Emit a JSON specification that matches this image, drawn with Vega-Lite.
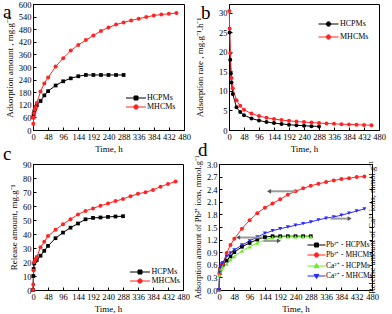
{
 "$schema": "https://vega.github.io/schema/vega-lite/v6.json",
 "autosize": {"type": "none"},
 "padding": {"left": 33, "top": 4, "right": 359, "bottom": 310},
 "background": "white",
 "config": {
  "font": "Liberation Serif",
  "view": {"stroke": "black", "strokeWidth": 1},
  "axis": {"grid": false, "domainColor": "black", "tickColor": "black", "labelColor": "black", "titleColor": "black", "labelFontSize": 8.5, "titleFontSize": 9, "titleFontWeight": "normal", "tickSize": -3, "labelPadding": 5, "labelFont": "Liberation Serif", "titleFont": "Liberation Serif", "labelOverlap": false, "labelBound": false, "labelFlush": false},
  "legend": {"labelFont": "Liberation Serif", "labelFontSize": 8, "labelColor": "black"},
  "title": {"font": "Liberation Serif", "fontSize": 19, "fontWeight": "normal", "anchor": "start", "frame": "group", "baseline": "alphabetic", "color": "black"}
 },
 "datasets": {
  "a": [
   {"t":1,"v":60,"s":"HCPMs"},{"t":2,"v":75,"s":"HCPMs"},{"t":4,"v":88,"s":"HCPMs"},{"t":6,"v":98,"s":"HCPMs"},{"t":8,"v":106,"s":"HCPMs"},{"t":12,"v":118,"s":"HCPMs"},{"t":24,"v":138,"s":"HCPMs"},{"t":36,"v":165,"s":"HCPMs"},{"t":48,"v":185,"s":"HCPMs"},{"t":72,"v":212,"s":"HCPMs"},{"t":96,"v":232,"s":"HCPMs"},{"t":120,"v":246,"s":"HCPMs"},{"t":144,"v":256,"s":"HCPMs"},{"t":168,"v":262,"s":"HCPMs"},{"t":192,"v":262,"s":"HCPMs"},{"t":216,"v":262,"s":"HCPMs"},{"t":240,"v":262,"s":"HCPMs"},{"t":264,"v":262,"s":"HCPMs"},{"t":288,"v":262,"s":"HCPMs"},
   {"t":1,"v":30,"s":"MHCMs"},{"t":2,"v":60,"s":"MHCMs"},{"t":4,"v":80,"s":"MHCMs"},{"t":6,"v":98,"s":"MHCMs"},{"t":8,"v":110,"s":"MHCMs"},{"t":12,"v":128,"s":"MHCMs"},{"t":24,"v":183,"s":"MHCMs"},{"t":36,"v":222,"s":"MHCMs"},{"t":48,"v":250,"s":"MHCMs"},{"t":72,"v":302,"s":"MHCMs"},{"t":96,"v":342,"s":"MHCMs"},{"t":120,"v":378,"s":"MHCMs"},{"t":144,"v":405,"s":"MHCMs"},{"t":168,"v":428,"s":"MHCMs"},{"t":192,"v":450,"s":"MHCMs"},{"t":216,"v":472,"s":"MHCMs"},{"t":240,"v":488,"s":"MHCMs"},{"t":264,"v":502,"s":"MHCMs"},{"t":288,"v":512,"s":"MHCMs"},{"t":312,"v":522,"s":"MHCMs"},{"t":336,"v":530,"s":"MHCMs"},{"t":360,"v":538,"s":"MHCMs"},{"t":384,"v":545,"s":"MHCMs"},{"t":408,"v":550,"s":"MHCMs"},{"t":432,"v":553,"s":"MHCMs"},{"t":456,"v":557,"s":"MHCMs"}
  ],
  "b": [
   {"t":2,"v":25,"s":"HCPMs"},{"t":4,"v":18,"s":"HCPMs"},{"t":6,"v":14.5,"s":"HCPMs"},{"t":8,"v":12.2,"s":"HCPMs"},{"t":12,"v":9.2,"s":"HCPMs"},{"t":24,"v":5.8,"s":"HCPMs"},{"t":36,"v":4.6,"s":"HCPMs"},{"t":48,"v":3.8,"s":"HCPMs"},{"t":72,"v":2.95,"s":"HCPMs"},{"t":96,"v":2.42,"s":"HCPMs"},{"t":120,"v":2.05,"s":"HCPMs"},{"t":144,"v":1.78,"s":"HCPMs"},{"t":168,"v":1.56,"s":"HCPMs"},{"t":192,"v":1.36,"s":"HCPMs"},{"t":216,"v":1.21,"s":"HCPMs"},{"t":240,"v":1.09,"s":"HCPMs"},{"t":264,"v":0.99,"s":"HCPMs"},{"t":288,"v":0.91,"s":"HCPMs"},
   {"t":1,"v":30.5,"s":"MHCMs"},{"t":2,"v":26,"s":"MHCMs"},{"t":4,"v":19.7,"s":"MHCMs"},{"t":8,"v":13.3,"s":"MHCMs"},{"t":12,"v":10.7,"s":"MHCMs"},{"t":24,"v":7.6,"s":"MHCMs"},{"t":36,"v":6.2,"s":"MHCMs"},{"t":48,"v":5.2,"s":"MHCMs"},{"t":72,"v":4.2,"s":"MHCMs"},{"t":96,"v":3.56,"s":"MHCMs"},{"t":120,"v":3.15,"s":"MHCMs"},{"t":144,"v":2.81,"s":"MHCMs"},{"t":168,"v":2.55,"s":"MHCMs"},{"t":192,"v":2.34,"s":"MHCMs"},{"t":216,"v":2.18,"s":"MHCMs"},{"t":240,"v":2.03,"s":"MHCMs"},{"t":264,"v":1.9,"s":"MHCMs"},{"t":288,"v":1.78,"s":"MHCMs"},{"t":312,"v":1.67,"s":"MHCMs"},{"t":336,"v":1.58,"s":"MHCMs"},{"t":360,"v":1.49,"s":"MHCMs"},{"t":384,"v":1.42,"s":"MHCMs"},{"t":408,"v":1.35,"s":"MHCMs"},{"t":432,"v":1.28,"s":"MHCMs"},{"t":456,"v":1.22,"s":"MHCMs"}
  ],
  "c": [
   {"t":0,"v":0,"s":"HCPMs"},{"t":1,"v":10,"s":"HCPMs"},{"t":2,"v":15,"s":"HCPMs"},{"t":4,"v":19,"s":"HCPMs"},{"t":8,"v":21,"s":"HCPMs"},{"t":12,"v":21.5,"s":"HCPMs"},{"t":24,"v":24.5,"s":"HCPMs"},{"t":36,"v":28,"s":"HCPMs"},{"t":48,"v":31.5,"s":"HCPMs"},{"t":72,"v":37,"s":"HCPMs"},{"t":96,"v":41,"s":"HCPMs"},{"t":120,"v":44.5,"s":"HCPMs"},{"t":144,"v":47.5,"s":"HCPMs"},{"t":168,"v":50.5,"s":"HCPMs"},{"t":192,"v":51.5,"s":"HCPMs"},{"t":216,"v":51.8,"s":"HCPMs"},{"t":240,"v":52.2,"s":"HCPMs"},{"t":264,"v":52.5,"s":"HCPMs"},{"t":288,"v":52.7,"s":"HCPMs"},
   {"t":0,"v":0,"s":"MHCMs"},{"t":1,"v":4,"s":"MHCMs"},{"t":2,"v":14,"s":"MHCMs"},{"t":4,"v":20,"s":"MHCMs"},{"t":8,"v":22,"s":"MHCMs"},{"t":12,"v":23.5,"s":"MHCMs"},{"t":24,"v":30.5,"s":"MHCMs"},{"t":36,"v":34.5,"s":"MHCMs"},{"t":48,"v":38.5,"s":"MHCMs"},{"t":72,"v":43,"s":"MHCMs"},{"t":96,"v":47,"s":"MHCMs"},{"t":120,"v":50.5,"s":"MHCMs"},{"t":144,"v":54,"s":"MHCMs"},{"t":168,"v":56.5,"s":"MHCMs"},{"t":192,"v":58.3,"s":"MHCMs"},{"t":216,"v":60.2,"s":"MHCMs"},{"t":240,"v":61.8,"s":"MHCMs"},{"t":264,"v":63.5,"s":"MHCMs"},{"t":288,"v":65,"s":"MHCMs"},{"t":312,"v":67,"s":"MHCMs"},{"t":336,"v":68.7,"s":"MHCMs"},{"t":360,"v":69.8,"s":"MHCMs"},{"t":384,"v":71.5,"s":"MHCMs"},{"t":408,"v":73.8,"s":"MHCMs"},{"t":432,"v":75.7,"s":"MHCMs"},{"t":456,"v":77.5,"s":"MHCMs"}
  ],
  "d": [
   {"t":0,"v":0,"s":"Pb²⁺ - HCPMs"},{"t":2,"v":0.4,"s":"Pb²⁺ - HCPMs"},{"t":4,"v":0.5,"s":"Pb²⁺ - HCPMs"},{"t":8,"v":0.57,"s":"Pb²⁺ - HCPMs"},{"t":12,"v":0.6,"s":"Pb²⁺ - HCPMs"},{"t":24,"v":0.7,"s":"Pb²⁺ - HCPMs"},{"t":36,"v":0.8,"s":"Pb²⁺ - HCPMs"},{"t":48,"v":0.9,"s":"Pb²⁺ - HCPMs"},{"t":72,"v":1.03,"s":"Pb²⁺ - HCPMs"},{"t":96,"v":1.12,"s":"Pb²⁺ - HCPMs"},{"t":120,"v":1.2,"s":"Pb²⁺ - HCPMs"},{"t":144,"v":1.26,"s":"Pb²⁺ - HCPMs"},{"t":168,"v":1.28,"s":"Pb²⁺ - HCPMs"},{"t":192,"v":1.28,"s":"Pb²⁺ - HCPMs"},{"t":216,"v":1.28,"s":"Pb²⁺ - HCPMs"},{"t":240,"v":1.28,"s":"Pb²⁺ - HCPMs"},{"t":264,"v":1.28,"s":"Pb²⁺ - HCPMs"},{"t":288,"v":1.28,"s":"Pb²⁺ - HCPMs"},
   {"t":0,"v":0,"s":"Pb²⁺ - MHCMs"},{"t":2,"v":0.38,"s":"Pb²⁺ - MHCMs"},{"t":4,"v":0.48,"s":"Pb²⁺ - MHCMs"},{"t":8,"v":0.58,"s":"Pb²⁺ - MHCMs"},{"t":12,"v":0.62,"s":"Pb²⁺ - MHCMs"},{"t":24,"v":0.88,"s":"Pb²⁺ - MHCMs"},{"t":36,"v":1.07,"s":"Pb²⁺ - MHCMs"},{"t":48,"v":1.22,"s":"Pb²⁺ - MHCMs"},{"t":72,"v":1.46,"s":"Pb²⁺ - MHCMs"},{"t":96,"v":1.66,"s":"Pb²⁺ - MHCMs"},{"t":120,"v":1.83,"s":"Pb²⁺ - MHCMs"},{"t":144,"v":1.96,"s":"Pb²⁺ - MHCMs"},{"t":168,"v":2.06,"s":"Pb²⁺ - MHCMs"},{"t":192,"v":2.16,"s":"Pb²⁺ - MHCMs"},{"t":216,"v":2.27,"s":"Pb²⁺ - MHCMs"},{"t":240,"v":2.35,"s":"Pb²⁺ - MHCMs"},{"t":264,"v":2.42,"s":"Pb²⁺ - MHCMs"},{"t":288,"v":2.48,"s":"Pb²⁺ - MHCMs"},{"t":312,"v":2.53,"s":"Pb²⁺ - MHCMs"},{"t":336,"v":2.57,"s":"Pb²⁺ - MHCMs"},{"t":360,"v":2.61,"s":"Pb²⁺ - MHCMs"},{"t":384,"v":2.64,"s":"Pb²⁺ - MHCMs"},{"t":408,"v":2.66,"s":"Pb²⁺ - MHCMs"},{"t":432,"v":2.69,"s":"Pb²⁺ - MHCMs"},{"t":456,"v":2.7,"s":"Pb²⁺ - MHCMs"},
   {"t":0,"v":0,"s":"Ca²⁺ - HCPMs"},{"t":2,"v":0.35,"s":"Ca²⁺ - HCPMs"},{"t":4,"v":0.44,"s":"Ca²⁺ - HCPMs"},{"t":8,"v":0.5,"s":"Ca²⁺ - HCPMs"},{"t":12,"v":0.55,"s":"Ca²⁺ - HCPMs"},{"t":24,"v":0.62,"s":"Ca²⁺ - HCPMs"},{"t":36,"v":0.72,"s":"Ca²⁺ - HCPMs"},{"t":48,"v":0.8,"s":"Ca²⁺ - HCPMs"},{"t":72,"v":0.93,"s":"Ca²⁺ - HCPMs"},{"t":96,"v":1.03,"s":"Ca²⁺ - HCPMs"},{"t":120,"v":1.12,"s":"Ca²⁺ - HCPMs"},{"t":144,"v":1.19,"s":"Ca²⁺ - HCPMs"},{"t":168,"v":1.25,"s":"Ca²⁺ - HCPMs"},{"t":192,"v":1.26,"s":"Ca²⁺ - HCPMs"},{"t":216,"v":1.27,"s":"Ca²⁺ - HCPMs"},{"t":240,"v":1.27,"s":"Ca²⁺ - HCPMs"},{"t":264,"v":1.27,"s":"Ca²⁺ - HCPMs"},{"t":288,"v":1.27,"s":"Ca²⁺ - HCPMs"},
   {"t":0,"v":0,"s":"Ca²⁺ - MHCMs"},{"t":2,"v":0.42,"s":"Ca²⁺ - MHCMs"},{"t":4,"v":0.55,"s":"Ca²⁺ - MHCMs"},{"t":8,"v":0.62,"s":"Ca²⁺ - MHCMs"},{"t":12,"v":0.65,"s":"Ca²⁺ - MHCMs"},{"t":24,"v":0.8,"s":"Ca²⁺ - MHCMs"},{"t":36,"v":0.88,"s":"Ca²⁺ - MHCMs"},{"t":48,"v":0.95,"s":"Ca²⁺ - MHCMs"},{"t":72,"v":1.07,"s":"Ca²⁺ - MHCMs"},{"t":96,"v":1.17,"s":"Ca²⁺ - MHCMs"},{"t":120,"v":1.26,"s":"Ca²⁺ - MHCMs"},{"t":144,"v":1.35,"s":"Ca²⁺ - MHCMs"},{"t":168,"v":1.41,"s":"Ca²⁺ - MHCMs"},{"t":192,"v":1.46,"s":"Ca²⁺ - MHCMs"},{"t":216,"v":1.5,"s":"Ca²⁺ - MHCMs"},{"t":240,"v":1.54,"s":"Ca²⁺ - MHCMs"},{"t":264,"v":1.58,"s":"Ca²⁺ - MHCMs"},{"t":288,"v":1.62,"s":"Ca²⁺ - MHCMs"},{"t":312,"v":1.67,"s":"Ca²⁺ - MHCMs"},{"t":336,"v":1.71,"s":"Ca²⁺ - MHCMs"},{"t":360,"v":1.74,"s":"Ca²⁺ - MHCMs"},{"t":384,"v":1.78,"s":"Ca²⁺ - MHCMs"},{"t":408,"v":1.83,"s":"Ca²⁺ - MHCMs"},{"t":432,"v":1.88,"s":"Ca²⁺ - MHCMs"},{"t":456,"v":1.93,"s":"Ca²⁺ - MHCMs"}
  ],
  "arrows": [
   {"from":241,"to":157,"v":2.35,"side":"left"},
   {"from":138,"to":60,"v":1.25,"side":"left"},
   {"from":141,"to":188,"v":1.17,"side":"right"},
   {"from":350,"to":410,"v":1.7,"side":"right"}
  ]
 },
 "spacing": 160,
 "bounds": "flush",
 "resolve": {"scale": {"color": "independent", "shape": "independent"}, "legend": {"color": "independent", "shape": "independent"}},
 "vconcat": [
  {
   "spacing": 45,
   "bounds": "flush",
   "resolve": {"scale": {"color": "independent", "shape": "independent"}, "legend": {"color": "independent", "shape": "independent"}},
   "hconcat": [
    {
     "width": 151, "height": 126,
     "title": {"text": "a", "dx": -30, "offset": -22},
     "data": {"name": "a"},
     "encoding": {
      "x": {"field": "t", "type": "quantitative", "scale": {"domain": [0, 480], "nice": false}, "axis": {"values": [0,48,96,144,192,240,288,336,384,432,480], "title": "Time, h"}},
      "y": {"field": "v", "type": "quantitative", "scale": {"domain": [0, 600], "nice": false}, "axis": {"values": [0,60,120,180,240,300,360,420,480,540,600], "title": "Adsorption amount , mg.g⁻¹"}},
      "color": {"field": "s", "type": "nominal", "scale": {"domain": ["HCPMs","MHCMs"], "range": ["#000000","#ff2424"]},
       "legend": {"title": null, "orient": "none", "legendX": 98.5, "legendY": 89.5, "padding": 0, "symbolSize": 64, "labelOffset": 6.5, "rowPadding": 0,
        "encode": {"symbols": {"update": {
         "shape": {"signal": "datum.value === 'HCPMs' ? 'M-2.5,0H2.5M-0.5,-0.5H0.5V0.5H-0.5Z' : 'M-2.5,0H2.5M0.55,0A0.55,0.55,0,1,1,-0.55,0A0.55,0.55,0,1,1,0.55,0Z'"},
         "fill": {"signal": "datum.value === 'HCPMs' ? '#000000' : '#ff2424'"},
         "stroke": {"signal": "datum.value === 'HCPMs' ? '#000000' : '#ff2424'"},
         "strokeWidth": {"value": 1}, "opacity": {"value": 1}, "fillOpacity": {"value": 1}}}}}}
     },
     "layer": [
      {"mark": {"type": "line", "strokeWidth": 1}},
      {"transform": [{"filter": "datum.s === 'HCPMs'"}], "mark": {"type": "point", "filled": true, "size": 14, "opacity": 1, "shape": "square"}},
      {"transform": [{"filter": "datum.s === 'MHCMs'"}], "mark": {"type": "point", "filled": true, "size": 16, "opacity": 1, "shape": "circle"}}
     ]
    },
    {
     "width": 150, "height": 126,
     "title": {"text": "b", "dx": -28, "offset": -19},
     "data": {"name": "b"},
     "encoding": {
      "x": {"field": "t", "type": "quantitative", "scale": {"domain": [0, 480], "nice": false}, "axis": {"values": [0,48,96,144,192,240,288,336,384,432,480], "title": "Time, h"}},
      "y": {"field": "v", "type": "quantitative", "scale": {"domain": [0, 32.3], "nice": false}, "axis": {"values": [0,5,10,15,20,25,30], "title": "Adsorption rate , mg.g⁻¹.h⁻¹", "titlePadding": 14}},
      "color": {"field": "s", "type": "nominal", "scale": {"domain": ["HCPMs","MHCMs"], "range": ["#000000","#ff2424"]},
       "legend": {"title": null, "orient": "none", "legendX": 95, "legendY": 15.5, "padding": 0, "symbolSize": 64, "labelOffset": 7, "rowPadding": 4,
        "encode": {"symbols": {"update": {
         "shape": {"value": "M-2.5,0H2.5M0.55,0A0.55,0.55,0,1,1,-0.55,0A0.55,0.55,0,1,1,0.55,0Z"},
         "fill": {"signal": "datum.value === 'HCPMs' ? '#000000' : '#ff2424'"},
         "stroke": {"signal": "datum.value === 'HCPMs' ? '#000000' : '#ff2424'"},
         "strokeWidth": {"value": 1}, "opacity": {"value": 1}, "fillOpacity": {"value": 1}}}}}}
     },
     "layer": [
      {"mark": {"type": "line", "strokeWidth": 1}},
      {"mark": {"type": "point", "filled": true, "size": 16, "opacity": 1, "shape": "circle"}}
     ]
    }
   ]
  },
  {
   "spacing": 36,
   "bounds": "flush",
   "resolve": {"scale": {"color": "independent", "shape": "independent"}, "legend": {"color": "independent", "shape": "independent"}},
   "hconcat": [
    {
     "width": 150, "height": 126,
     "title": {"text": "c", "dx": -30, "offset": -4},
     "data": {"name": "c"},
     "encoding": {
      "x": {"field": "t", "type": "quantitative", "scale": {"domain": [0, 480], "nice": false}, "axis": {"values": [0,48,96,144,192,240,288,336,384,432,480], "title": "Time, h"}},
      "y": {"field": "v", "type": "quantitative", "scale": {"domain": [0, 90], "nice": false}, "axis": {"values": [0,10,20,30,40,50,60,70,80,90], "title": "Release amount, mg.g⁻¹"}},
      "color": {"field": "s", "type": "nominal", "scale": {"domain": ["HCPMs","MHCMs"], "range": ["#000000","#ff2424"]},
       "legend": {"title": null, "orient": "none", "legendX": 102.5, "legendY": 103.5, "padding": 0, "symbolSize": 64, "labelOffset": 7, "rowPadding": 0,
        "encode": {"symbols": {"update": {
         "shape": {"signal": "datum.value === 'HCPMs' ? 'M-2.5,0H2.5M-0.5,-0.5H0.5V0.5H-0.5Z' : 'M-2.5,0H2.5M0.55,0A0.55,0.55,0,1,1,-0.55,0A0.55,0.55,0,1,1,0.55,0Z'"},
         "fill": {"signal": "datum.value === 'HCPMs' ? '#000000' : '#ff2424'"},
         "stroke": {"signal": "datum.value === 'HCPMs' ? '#000000' : '#ff2424'"},
         "strokeWidth": {"value": 1}, "opacity": {"value": 1}, "fillOpacity": {"value": 1}}}}}}
     },
     "layer": [
      {"mark": {"type": "line", "strokeWidth": 1}},
      {"transform": [{"filter": "datum.s === 'HCPMs'"}], "mark": {"type": "point", "filled": true, "size": 14, "opacity": 1, "shape": "square"}},
      {"transform": [{"filter": "datum.s === 'MHCMs'"}], "mark": {"type": "point", "filled": true, "size": 16, "opacity": 1, "shape": "circle"}}
     ]
    },
    {
     "width": 153, "height": 126,
     "title": {"text": "d", "dx": -21, "offset": -5},
     "resolve": {"axis": {"y": "independent"}},
     "data": {"name": "d"},
     "layer": [
      {
       "mark": {"type": "line", "strokeWidth": 1},
       "encoding": {
        "x": {"field": "t", "type": "quantitative", "scale": {"domain": [0, 480], "nice": false}, "axis": {"values": [0,48,96,144,192,240,288,336,384,432,480], "title": "Time, h", "labelOverlap": false, "labelBound": false, "labelFlush": false}},
        "y": {"field": "v", "type": "quantitative", "scale": {"domain": [0, 3], "nice": false}, "axis": {"values": [0,0.3,0.6,0.9,1.2,1.5,1.8,2.1,2.4,2.7,3.0], "format": ".1f", "title": "Adsorption amount of Pb²⁺ ions, mmol.g⁻¹", "titleFontSize": 8.5}},
        "color": {"field": "s", "type": "nominal", "scale": {"domain": ["Pb²⁺ - HCPMs","Pb²⁺ - MHCMs","Ca²⁺ - HCPMs","Ca²⁺ - MHCMs"], "range": ["#000000","#ff2424","#66ee22","#2a2aff"]},
         "legend": {"title": null, "orient": "none", "legendX": 93, "legendY": 76.5, "padding": 0, "symbolSize": 64, "labelOffset": 5, "rowPadding": 1, "labelFontSize": 7.5,
          "encode": {"symbols": {"update": {
           "shape": {"signal": "indexof(datum.value, 'Pb') === 0 ? (indexof(datum.value, 'MHCMs') > 0 ? 'M-2.25,0H2.25M0.55,0A0.55,0.55,0,1,1,-0.55,0A0.55,0.55,0,1,1,0.55,0Z' : 'M-2.25,0H2.25M-0.5,-0.5H0.5V0.5H-0.5Z') : (indexof(datum.value, 'MHCMs') > 0 ? 'M-2.25,0H2.25M0,0.65L0.6,-0.4L-0.6,-0.4Z' : 'M-2.25,0H2.25M0,-0.65L0.6,0.4L-0.6,0.4Z')"},
           "fill": {"signal": "datum.value === 'Pb²⁺ - HCPMs' ? '#000000' : datum.value === 'Pb²⁺ - MHCMs' ? '#ff2424' : datum.value === 'Ca²⁺ - HCPMs' ? '#66ee22' : '#2a2aff'"},
           "stroke": {"signal": "datum.value === 'Pb²⁺ - HCPMs' ? '#000000' : datum.value === 'Pb²⁺ - MHCMs' ? '#ff2424' : datum.value === 'Ca²⁺ - HCPMs' ? '#66ee22' : '#2a2aff'"},
           "strokeWidth": {"value": 1}, "opacity": {"value": 1}, "fillOpacity": {"value": 1}}}}}}
       }
      },
      {
       "transform": [{"filter": "datum.s === 'Pb²⁺ - HCPMs'"}],
       "mark": {"type": "point", "filled": true, "size": 14, "opacity": 1, "shape": "square"},
       "encoding": {
        "x": {"field": "t", "type": "quantitative", "axis": {"values": [0,48,96,144,192,240,288,336,384,432,480], "title": "Time, h", "labelOverlap": false, "labelBound": false, "labelFlush": false}},
        "y": {"field": "v", "type": "quantitative", "scale": {"domain": [0, 3], "nice": false}, "axis": {"orient": "right", "values": [0,0.3,0.6,0.9,1.2,1.5,1.8,2.1,2.4,2.7,3.0], "labels": false, "title": "Release amount of Ca²⁺ ions, mmol.g⁻¹", "titleAngle": 270, "titlePadding": 4, "titleFontSize": 8.5}},
        "color": {"field": "s", "type": "nominal"}
       }
      },
      {
       "transform": [{"filter": "datum.s === 'Pb²⁺ - MHCMs'"}],
       "mark": {"type": "point", "filled": true, "size": 16, "opacity": 1, "shape": "circle"},
       "encoding": {"x": {"field": "t", "type": "quantitative", "axis": {"values": [0,48,96,144,192,240,288,336,384,432,480], "title": "Time, h", "labelOverlap": false, "labelBound": false, "labelFlush": false}}, "y": {"field": "v", "type": "quantitative", "axis": null}, "color": {"field": "s", "type": "nominal"}}
      },
      {
       "transform": [{"filter": "datum.s === 'Ca²⁺ - HCPMs'"}],
       "mark": {"type": "point", "filled": true, "size": 16, "opacity": 1, "shape": "triangle-up"},
       "encoding": {"x": {"field": "t", "type": "quantitative", "axis": {"values": [0,48,96,144,192,240,288,336,384,432,480], "title": "Time, h", "labelOverlap": false, "labelBound": false, "labelFlush": false}}, "y": {"field": "v", "type": "quantitative", "axis": null}, "color": {"field": "s", "type": "nominal"}}
      },
      {
       "transform": [{"filter": "datum.s === 'Ca²⁺ - MHCMs'"}],
       "mark": {"type": "point", "filled": true, "size": 16, "opacity": 1, "shape": "triangle-down"},
       "encoding": {"x": {"field": "t", "type": "quantitative", "axis": {"values": [0,48,96,144,192,240,288,336,384,432,480], "title": "Time, h", "labelOverlap": false, "labelBound": false, "labelFlush": false}}, "y": {"field": "v", "type": "quantitative", "axis": null}, "color": {"field": "s", "type": "nominal"}}
      },
      {
       "data": {"name": "arrows"},
       "mark": {"type": "rule", "color": "#9a9a9a", "strokeWidth": 2},
       "encoding": {
        "x": {"field": "from", "type": "quantitative", "axis": {"values": [0,48,96,144,192,240,288,336,384,432,480], "title": "Time, h", "labelOverlap": false, "labelBound": false, "labelFlush": false}},
        "x2": {"field": "to"},
        "y": {"field": "v", "type": "quantitative", "axis": null}
       }
      },
      {
       "data": {"name": "arrows"},
       "transform": [{"filter": "datum.side === 'left'"}],
       "mark": {"type": "point", "shape": "triangle-left", "filled": true, "color": "#555555", "size": 22, "opacity": 1},
       "encoding": {
        "x": {"field": "to", "type": "quantitative", "axis": {"values": [0,48,96,144,192,240,288,336,384,432,480], "title": "Time, h", "labelOverlap": false, "labelBound": false, "labelFlush": false}},
        "y": {"field": "v", "type": "quantitative", "axis": null}
       }
      },
      {
       "data": {"name": "arrows"},
       "transform": [{"filter": "datum.side === 'right'"}],
       "mark": {"type": "point", "shape": "triangle-right", "filled": true, "color": "#555555", "size": 22, "opacity": 1},
       "encoding": {
        "x": {"field": "to", "type": "quantitative", "axis": {"values": [0,48,96,144,192,240,288,336,384,432,480], "title": "Time, h", "labelOverlap": false, "labelBound": false, "labelFlush": false}},
        "y": {"field": "v", "type": "quantitative", "axis": null}
       }
      }
     ]
    }
   ]
  }
 ]
}
